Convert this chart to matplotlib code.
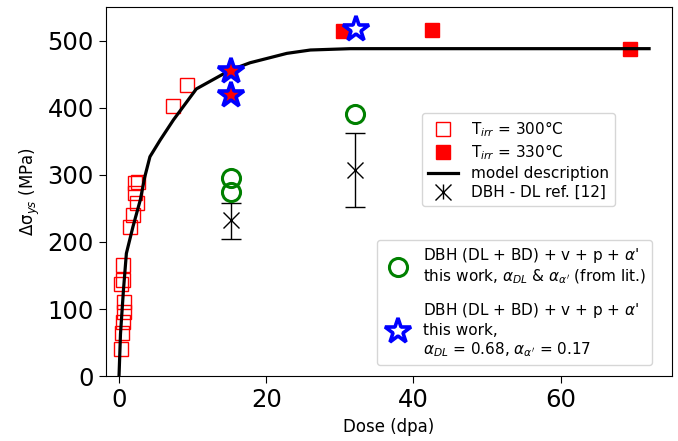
import numpy as np
import matplotlib.pyplot as plt
from matplotlib.lines import Line2D

# Experimental data, T_irr = 300 C (open squares)
dose_300 = [0.27, 0.37, 0.6, 0.72, 0.72, 0.27, 0.6, 0.6,
            1.5, 1.9, 2.4, 2.2, 2.2, 2.6, 7.4, 9.2]
sig_300 = [41, 64, 81, 96, 111, 138, 143, 166,
           223, 240, 258, 273, 288, 290, 403, 434]

# Experimental data, T_irr = 330 C (filled squares)
dose_330 = [30.4, 42.5, 69.4]
sig_330 = [515, 516, 488]

# Model description curve
dose_model = [0, 0.2, 0.6, 1.0, 1.9, 2.9, 3.5, 4.2, 5.6, 7.4, 10.5,
              15.1, 17.8, 22.8, 26.0, 31.4, 72.0]
sig_model = [0, 63, 128, 183, 223, 263, 297, 327, 352, 382, 428,
             456, 467, 481, 486, 488, 488]

# DBH - DL ref. [12] with error bars
dose_dl = [15.2, 32.1]
sig_dl = [233, 307]
err_lo = [29, 55]
err_hi = [25, 55]

# This work, alphas from literature (circles)
dose_lit = [15.2, 15.2, 32.1]
sig_lit = [295, 275, 391]

# This work, fitted alphas (stars)
dose_fit_red = [15.2, 15.2]
sig_fit_red = [454, 419]
dose_fit = [32.2]
sig_fit = [517]

fig = plt.figure(figsize=(6.78, 4.41), dpi=100)
ax = fig.add_axes([0.156, 0.147, 0.835, 0.837])

ax.plot(dose_model, sig_model, color='black', lw=2.3, zorder=3)
ax.plot(dose_300, sig_300, ls='none', marker='s', ms=10.5,
        mfc='none', mec='red', mew=1.0, zorder=2)
ax.plot(dose_330, sig_330, ls='none', marker='s', ms=10.5,
        mfc='red', mec='red', zorder=2)
ax.errorbar(dose_dl, sig_dl, yerr=[err_lo, err_hi], fmt='x', color='black',
            ms=11, mew=1.0, elinewidth=1.0, capsize=7, zorder=2)
ax.plot(dose_lit, sig_lit, ls='none', marker='o', ms=13,
        mfc='none', mec='green', mew=2.2, zorder=4)
ax.plot(dose_fit_red, sig_fit_red, ls='none', marker='*', ms=19,
        mfc='red', mec='blue', mew=2.6, zorder=5)
ax.plot(dose_fit, sig_fit, ls='none', marker='*', ms=19,
        mfc='white', mec='blue', mew=2.6, zorder=5)

ax.set_xlim(-1.8, 75.1)
ax.set_ylim(0, 550)
ax.set_xticks([0, 20, 40, 60])
ax.set_yticks([0, 100, 200, 300, 400, 500])
ax.tick_params(labelsize=17.5, length=5)
ax.set_xlabel('Dose (dpa)', fontsize=12)
ax.set_ylabel(r'Δσ$_{ys}$ (MPa)', fontsize=12)

h1 = [
    Line2D([], [], ls='none', marker='s', ms=10.5, mfc='none', mec='red'),
    Line2D([], [], ls='none', marker='s', ms=10.5, mfc='red', mec='red'),
    Line2D([], [], color='black', lw=2.3),
]
eb = ax.errorbar([], [], yerr=[], fmt='x', color='black', ms=11,
                 elinewidth=1.0, capsize=7)
h1.append(eb)
labels1 = [r'T$_{irr}$ = 300°C', r'T$_{irr}$ = 330°C',
           'model description', 'DBH - DL ref. [12]']
leg1 = ax.legend(h1, labels1, loc='upper left', fontsize=11,
                 bbox_to_anchor=(0.622, 0.744), bbox_transform=fig.transFigure,
                 borderaxespad=0, handlelength=2.0, handletextpad=0.8,
                 labelspacing=0.25, borderpad=0.4)
ax.add_artist(leg1)

h2 = [
    Line2D([], [], ls='none', marker='o', ms=13, mfc='none', mec='green', mew=2.2),
    Line2D([], [], ls='none', marker='*', ms=19, mfc='white', mec='blue', mew=2.6),
]
labels2 = ["DBH (DL + BD) + v + p + $\\alpha$'\nthis work, $\\alpha_{DL}$ & $\\alpha_{\\alpha'}$ (from lit.)",
           "DBH (DL + BD) + v + p + $\\alpha$'\nthis work,\n$\\alpha_{DL}$ = 0.68, $\\alpha_{\\alpha'}$ = 0.17"]
ax.legend(h2, labels2, loc='upper left', fontsize=11,
          bbox_to_anchor=(0.556, 0.456), bbox_transform=fig.transFigure,
          borderaxespad=0, handlelength=2.0, handletextpad=0.6,
          labelspacing=1.0, borderpad=0.4)

fig.savefig('out.png', dpi=100)
